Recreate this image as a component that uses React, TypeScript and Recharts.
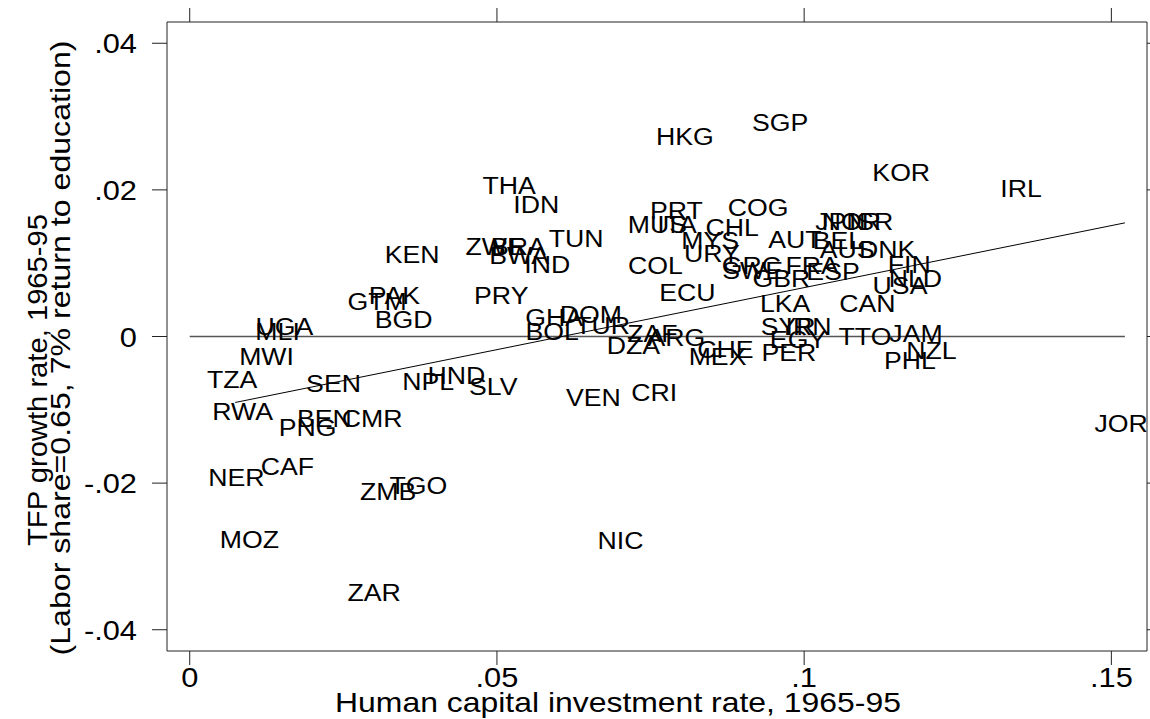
import React from "react";
import {
  ScatterChart,
  Scatter,
  XAxis,
  YAxis,
  ReferenceLine,
} from "recharts";

// country codes and their (human capital investment rate, TFP growth)
const codes = [
  "HKG", "SGP", "KOR", "IRL", "THA", "IDN", "PRT", "COG", "MUS", "ITA",
  "CHL", "TUN", "MYS", "URY", "AUT", "BEL", "JPN", "NOR", "ISR", "AUS",
  "DNK", "FIN", "NLD", "USA", "CAN", "LKA", "ECU", "COL", "GRC", "SWE",
  "FRA", "GBR", "ESP", "KEN", "ZWE", "BRA", "BWA", "IND", "PRY", "PAK",
  "GTM", "BGD", "UGA", "MLI", "MWI", "TZA", "RWA", "SEN", "NPL", "HND",
  "SLV", "BEN", "CMR", "PNG", "CAF", "NER", "ZMB", "TGO", "MOZ", "ZAR",
  "NIC", "VEN", "CRI", "GHA", "DOM", "TUR", "BOL", "ZAF", "ARG", "DZA",
  "CHE", "MEX", "SYR", "IRN", "EGY", "PER", "TTO", "JAM", "NZL", "PHL",
  "JOR",
];

const hcRate = [
  0.0806, 0.0961, 0.1158, 0.1353, 0.052, 0.0564, 0.0792, 0.0925, 0.0761, 0.0793,
  0.0883, 0.0629, 0.0847, 0.085, 0.0985, 0.1055, 0.1059, 0.1077, 0.1109, 0.107,
  0.1135, 0.1171, 0.1181, 0.1156, 0.1103, 0.0969, 0.081, 0.0758, 0.0914, 0.0916,
  0.1013, 0.0963, 0.1047, 0.0362, 0.0497, 0.0535, 0.0536, 0.0582, 0.0507, 0.0333,
  0.0305, 0.0348, 0.0154, 0.0143, 0.0125, 0.0069, 0.0086, 0.0234, 0.0388, 0.0434,
  0.0494, 0.0219, 0.0297, 0.0192, 0.0159, 0.0076, 0.0323, 0.0372, 0.0097, 0.03,
  0.0701, 0.0657, 0.0756, 0.0593, 0.0653, 0.0672, 0.059, 0.0753, 0.0792, 0.0722,
  0.0872, 0.0859, 0.0974, 0.1007, 0.099, 0.0975, 0.1099, 0.1182, 0.1207, 0.1172,
  0.1516,
];

const tfpGrowth = [
  0.0272, 0.0292, 0.0223, 0.0202, 0.0205, 0.018, 0.0172, 0.0175, 0.0153, 0.0153,
  0.0149, 0.0134, 0.013, 0.0113, 0.0132, 0.0131, 0.0156, 0.0156, 0.0156, 0.0118,
  0.0118, 0.0098, 0.0079, 0.0069, 0.0045, 0.0045, 0.006, 0.0097, 0.0096, 0.009,
  0.0096, 0.0079, 0.0088, 0.0111, 0.0123, 0.0123, 0.011, 0.0098, 0.0056, 0.0056,
  0.0047, 0.0023, 0.0014, 0.0007, -0.0027, -0.0059, -0.0102, -0.0064, -0.0062, -0.0054,
  -0.0069, -0.0112, -0.0112, -0.0125, -0.0178, -0.0193, -0.0212, -0.0204, -0.0277, -0.035,
  -0.0279, -0.0084, -0.0077, 0.0025, 0.003, 0.0015, 0.0006, 0.0004, -0.0001, -0.0013,
  -0.0018, -0.0028, 0.0013, 0.0013, -0.0005, -0.0022, 0.0, 0.0004, -0.002, -0.0033,
  -0.0119,
];

// fitted line end points, as drawn
const fitX = [0.0074, 0.1522];
const fitY = [-0.009, 0.0155];

const xTicks = [0, 0.05, 0.1, 0.15];
const xTickLabels = ["0", ".05", ".1", ".15"];
const yTicks = [-0.04, -0.02, 0, 0.02, 0.04];
const yTickLabels = ["-.04", "-.02", "0", ".02", ".04"];

const FONT = "'Liberation Sans', Arial, sans-serif";
const X_DOMAIN = [-0.0037, 0.1558];
const Y_DOMAIN = [-0.0429, 0.0429];

const points = codes.map((code, i) => ({ code, x: hcRate[i], y: tfpGrowth[i] }));

const CodeLabel = (props: any) => {
  const { cx, cy, payload } = props;
  if (cx == null || cy == null) return null;
  return (
    <text
      transform={`translate(${cx},${cy}) scale(1.16,1)`}
      x={0}
      y={0}
      dy="0.36em"
      textAnchor="middle"
      fontFamily={FONT}
      fontSize={23}
      fill="#000"
    >
      {payload.code}
    </text>
  );
};

const NoMark = () => <g />;

const XTick = (props: any) => {
  const { x, y, payload } = props;
  const i = xTicks.indexOf(payload.value);
  return (
    <text
      transform={`translate(${x},${y}) scale(1.1,1)`}
      dy="0.71em"
      textAnchor="middle"
      fontFamily={FONT}
      fontSize={28}
      fill="#000"
    >
      {i >= 0 ? xTickLabels[i] : ""}
    </text>
  );
};

const YTick = (props: any) => {
  const { x, y, payload } = props;
  const i = yTicks.findIndex((t) => Math.abs(t - payload.value) < 1e-9);
  return (
    <text
      transform={`translate(${x},${y}) scale(1.1,1)`}
      dy="0.36em"
      textAnchor="end"
      fontFamily={FONT}
      fontSize={28}
      fill="#000"
    >
      {i >= 0 ? yTickLabels[i] : ""}
    </text>
  );
};

export default function App() {
  const frame = "#222";
  return (
    <div style={{ position: "absolute", left: 0, top: 0, width: 1150, height: 719, background: "#fff" }}>
      <ScatterChart
        width={1150}
        height={719}
        margin={{ top: 0, right: 0, bottom: 0, left: 0 }}
      >
        <XAxis
          type="number"
          dataKey="x"
          domain={X_DOMAIN}
          allowDataOverflow
          ticks={xTicks}
          height={68}
          tickSize={14}
          tickMargin={2}
          stroke={frame}
          tick={<XTick />}
        />
        <XAxis
          xAxisId="top"
          orientation="top"
          type="number"
          dataKey="x"
          domain={X_DOMAIN}
          allowDataOverflow
          ticks={xTicks}
          height={22}
          tickSize={14}
          stroke={frame}
          tickLine={{ stroke: frame }}
          tick={<NoMark />}
        />
        <YAxis
          type="number"
          dataKey="y"
          domain={Y_DOMAIN}
          allowDataOverflow
          ticks={yTicks}
          width={167}
          tickSize={15}
          tickMargin={15}
          stroke={frame}
          tick={<YTick />}
        />
        <YAxis
          yAxisId="right"
          orientation="right"
          type="number"
          dataKey="y"
          domain={Y_DOMAIN}
          allowDataOverflow
          ticks={yTicks}
          width={3}
          tickSize={14}
          stroke={frame}
          tickLine={{ stroke: frame }}
          tick={<NoMark />}
        />
        <ReferenceLine
          segment={[
            { x: 0, y: 0 },
            { x: fitX[1], y: 0 },
          ]}
          stroke="#555"
          strokeWidth={1.3}
        />
        <ReferenceLine
          segment={[
            { x: fitX[0], y: fitY[0] },
            { x: fitX[1], y: fitY[1] },
          ]}
          stroke="#000"
          strokeWidth={1}
        />
        <Scatter data={points} shape={<CodeLabel />} isAnimationActive={false} />
        {/* invisible twin so the mirrored top/right axes get drawn */}
        <Scatter
          data={points}
          xAxisId="top"
          yAxisId="right"
          shape={<NoMark />}
          isAnimationActive={false}
        />
      </ScatterChart>
      <svg width={1150} height={719} style={{ position: "absolute", left: 0, top: 0, pointerEvents: "none" }}>
        <text
          x={618}
          y={712}
          textAnchor="middle"
          textLength={566}
          lengthAdjust="spacingAndGlyphs"
          fontFamily={FONT}
          fontSize={28}
          fill="#000"
        >
          Human capital investment rate, 1965-95
        </text>
        <text
          transform="translate(47,380) rotate(-90)"
          textAnchor="middle"
          textLength={332}
          lengthAdjust="spacingAndGlyphs"
          fontFamily={FONT}
          fontSize={28}
          fill="#000"
        >
          TFP growth rate, 1965-95
        </text>
        <text
          transform="translate(70,348) rotate(-90)"
          textAnchor="middle"
          textLength={615}
          lengthAdjust="spacingAndGlyphs"
          fontFamily={FONT}
          fontSize={28}
          fill="#000"
        >
          (Labor share=0.65, 7% return to education)
        </text>
      </svg>
    </div>
  );
}
